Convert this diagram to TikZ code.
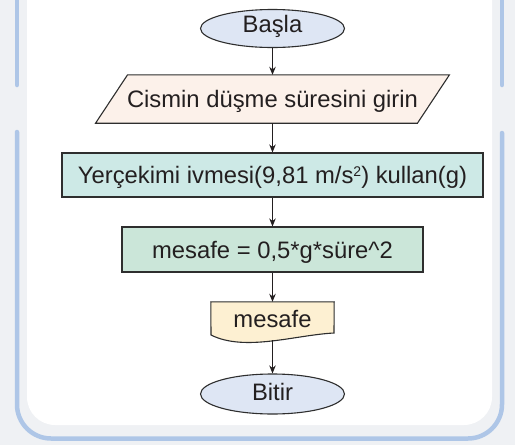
\documentclass[tikz,border=0pt]{standalone}
\usepackage{fontspec}
\setmainfont{Liberation Sans}
\usetikzlibrary{shapes.geometric,arrows.meta}
\pgfdeclarelayer{bg}
\pgfdeclarelayer{shp}
\pgfsetlayers{bg,shp,main}
\definecolor{bggray}{HTML}{EFF1F4}
\definecolor{bline}{HTML}{AEC6E7}
\definecolor{ink}{HTML}{231F20}
\definecolor{edge}{HTML}{2E2E2E}
\definecolor{termfill}{HTML}{DEE6F4}
\definecolor{parafill}{HTML}{FCF1EA}
\definecolor{procA}{HTML}{CDE9E6}
\definecolor{procB}{HTML}{CBE6D9}
\definecolor{docfill}{HTML}{FDF0D2}
\newcommand{\supsmall}[1]{\raisebox{7pt}{\fontsize{14}{14}\selectfont #1}}
\begin{document}
\begin{tikzpicture}[x=1pt,y=-1pt,
  font=\fontsize{23.8}{28}\selectfont,
  txt/.style={text=ink, inner sep=0pt, text height=17pt, text depth=0pt},
  term/.style={ellipse, draw=edge, fill=termfill, line width=1.1pt,
    minimum width=144pt, minimum height=39pt, txt},
  proc/.style={rectangle, draw=edge, line width=1.1pt, txt},
  shapeline/.style={draw=edge, line width=1.1pt},
  conn/.style={draw=ink, line width=1.1pt, -{Stealth[length=8pt,width=6.5pt]}},
  blueline/.style={draw=bline, line width=4.5pt, line cap=round}]
\useasboundingbox (0,0) rectangle (515,445);
\begin{pgfonlayer}{bg}
  \clip (0,0) rectangle (515,445);
  \fill[bggray] (0,0) rectangle (515,445);
  \fill[white, rounded corners=28pt] (27,-60) rectangle (492,425);
  \draw[blueline] (17,-10) -- (17,85);
  \draw[blueline, rounded corners=34pt] (17,132) -- (17,438.5) -- (502,438.5) -- (502,133);
  \draw[blueline] (502,-10) -- (502,85);
\end{pgfonlayer}

\node[term, text depth=9pt, minimum height=38pt] (start) at (272.5,28.5) {Başla};
\node[txt, minimum width=321.5pt, minimum height=48pt] (in) at (272.5,99) {Cismin düşme süresini girin};
\node[proc, fill=procA, minimum width=421pt, minimum height=44pt] (g) at (272.5,175) {Yerçekimi ivmesi(9,81 m/s\supsmall{2}) kullan(g)};
\node[proc, fill=procB, minimum width=301pt, minimum height=45pt] (calc) at (272.5,249.5) {mesafe = 0,5*g*süre\textasciicircum 2};
\node[txt, text depth=5pt, minimum width=123pt, minimum height=38pt] (out) at (272.5,321) {mesafe};
\node[term, text depth=5pt, minimum height=40pt] (stop) at (272.5,394) {Bitir};

\begin{pgfonlayer}{shp}
  \draw[shapeline, fill=parafill]
    ([xshift=16pt]in.north west) -- ([xshift=16pt]in.north east)
    -- ([xshift=-16pt]in.south east) -- ([xshift=-16pt]in.south west) -- cycle;
  \draw[shapeline, fill=docfill]
    (out.north west) -- (out.north east) -- (334,333)
    .. controls (295,335) and (245,352) .. (211,335) -- cycle;
\end{pgfonlayer}

\draw[conn] (start) -- (in);
\draw[conn] (in) -- (g);
\draw[conn] (g) -- (calc);
\draw[conn] (calc) -- (out);
\draw[conn] (out) -- (stop);
\end{tikzpicture}
\end{document}
